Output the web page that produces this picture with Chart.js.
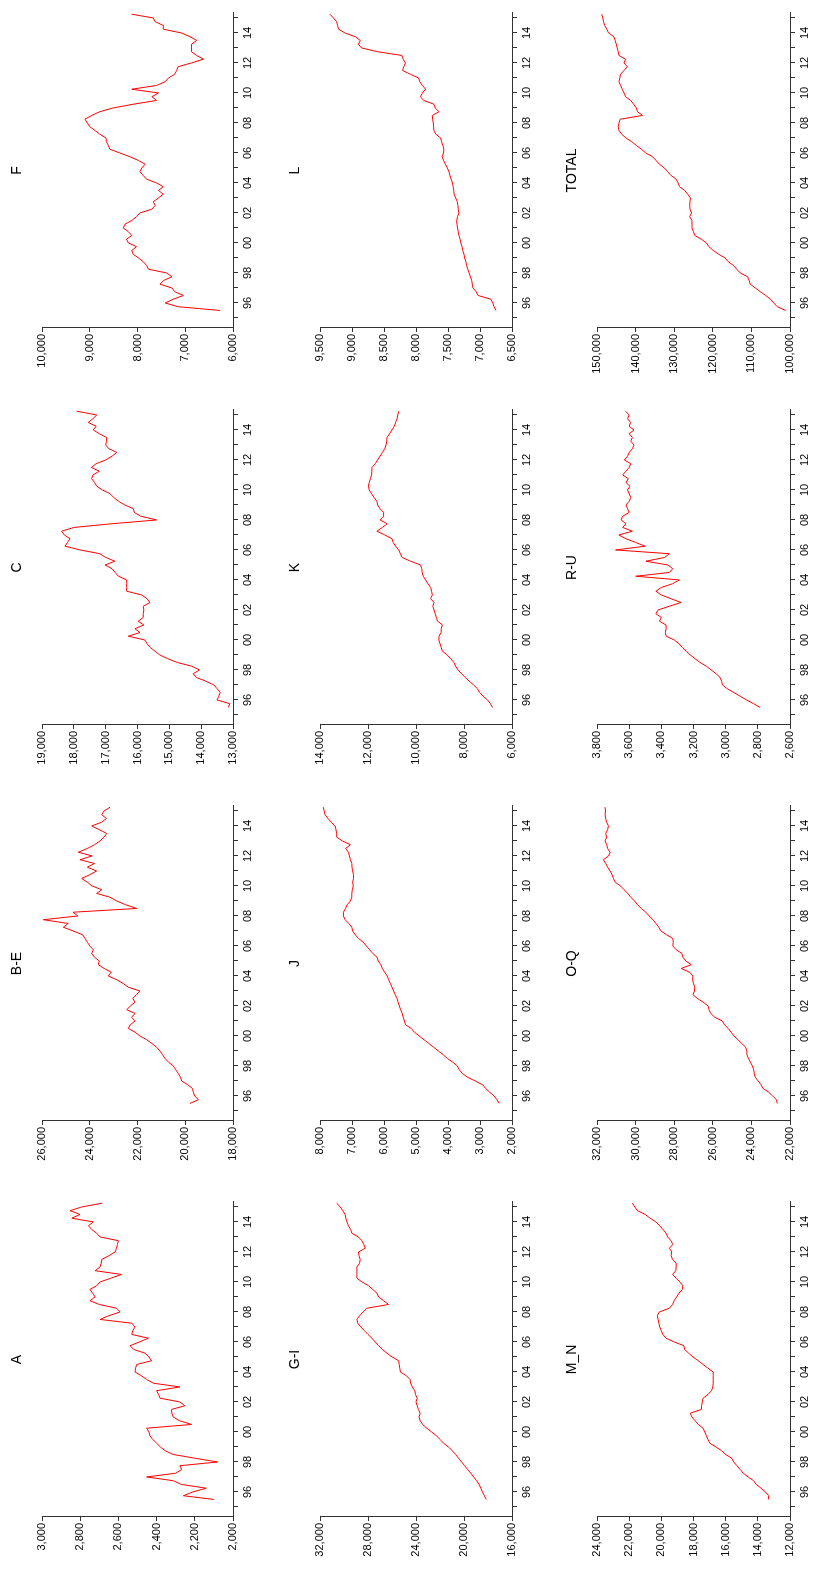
<!DOCTYPE html>
<html lang="en">
<head>
<meta charset="UTF-8">
<title>Value added by activity</title>
<script src="https://cdn.jsdelivr.net/npm/chart.js"></script>
<style>
  html, body { margin: 0; padding: 0; background: #fff; overflow: hidden; }
  /* the whole sheet is laid out landscape, then turned a quarter left */
  #page { position: absolute; left: 0; top: 0; width: 1575px; height: 817px;
          transform-origin: 0 0; transform: translateY(1575px) rotate(-90deg); }
  #page canvas { position: absolute; }
</style>
</head>
<body>
<div id="page"></div>
<script>
// quarterly observations
const quarters = [
  '1995Q3','1995Q4',
  '1996Q1','1996Q2','1996Q3','1996Q4','1997Q1','1997Q2','1997Q3','1997Q4',
  '1998Q1','1998Q2','1998Q3','1998Q4','1999Q1','1999Q2','1999Q3','1999Q4',
  '2000Q1','2000Q2','2000Q3','2000Q4','2001Q1','2001Q2','2001Q3','2001Q4',
  '2002Q1','2002Q2','2002Q3','2002Q4','2003Q1','2003Q2','2003Q3','2003Q4',
  '2004Q1','2004Q2','2004Q3','2004Q4','2005Q1','2005Q2','2005Q3','2005Q4',
  '2006Q1','2006Q2','2006Q3','2006Q4','2007Q1','2007Q2','2007Q3','2007Q4',
  '2008Q1','2008Q2','2008Q3','2008Q4','2009Q1','2009Q2','2009Q3','2009Q4',
  '2010Q1','2010Q2','2010Q3','2010Q4','2011Q1','2011Q2','2011Q3','2011Q4',
  '2012Q1','2012Q2','2012Q3','2012Q4','2013Q1','2013Q2','2013Q3','2013Q4',
  '2014Q1','2014Q2','2014Q3','2014Q4','2015Q1','2015Q2'
];
const yearTicks = [1995,1996,1997,1998,1999,2000,2001,2002,2003,2004,2005,
                   2006,2007,2008,2009,2010,2011,2012,2013,2014,2015];

const panelTitles = ['A','B-E','C','F','G-I','J','K','L','M_N','O-Q','R-U','TOTAL'];
const axisMin  = [2000, 18000, 13000, 6000, 16000, 2000, 6000, 6500, 12000, 22000, 2600, 100000];
const axisMax  = [3000, 26000, 19000, 10000, 32000, 8000, 14000, 9500, 24000, 32000, 3800, 150000];
const axisStep = [200, 2000, 1000, 1000, 4000, 1000, 2000, 500, 2000, 2000, 200, 10000];

const seriesA = [
  2100,2260,2210,2140,2270,2313,2452,2300,2269,2278,
  2080,2200,2313,2356,2380,2400,2420,2435,2440,2452,
  2217,2280,2313,2320,2322,2252,2278,2382,2390,2400,
  2278,2417,2452,2480,2513,2510,2504,2426,2440,2460,
  2520,2539,2490,2443,2530,2525,2513,2530,2696,2650,
  2591,2610,2700,2749,2722,2735,2749,2714,2696,2640,
  2583,2722,2696,2690,2687,2650,2617,2610,2605,2600,
  2696,2714,2740,2757,2731,2844,2801,2853,2792,2685
];
const seriesBE = [
  19800,19450,19600,19660,19700,19900,20150,20200,20290,20400,
  20500,20700,20850,20950,21060,21200,21400,21615,21900,22100,
  22386,22300,22100,22250,22100,22450,22300,22105,22200,22050,
  21896,22386,22600,22870,23223,23100,23400,23642,23600,23800,
  23918,23850,24000,24100,24199,24300,24700,25108,24900,25945,
  24500,24700,22033,22500,22870,23152,23710,23500,23900,24100,
  24337,24000,23710,24100,23800,24410,23900,24480,24100,23800,
  23571,23400,23291,23600,23918,23500,23300,23500,23400,23152
];
const seriesC = [
  13150,13100,13500,13450,13400,13500,13600,13850,14150,14250,
  14050,14300,14750,15050,15300,15450,15600,15700,15770,16290,
  15920,16080,15800,15980,15820,15820,15800,15820,15610,15700,
  15870,16340,16340,16340,16340,16600,16700,16800,17020,16710,
  17000,17180,17800,18280,18200,18120,18300,18380,18000,16800,
  15400,15900,16100,16130,16400,16600,16750,16860,17100,17280,
  17350,17440,17400,17200,17450,17300,17000,16800,16650,16900,
  17000,16970,16970,17200,17390,17300,17550,17400,17280,17910
];
const seriesF = [
  6270,7150,7420,7250,7040,7220,7280,7530,7450,7280,
  7390,7770,7810,7880,7980,8090,8120,8020,8190,8230,
  8120,8190,8300,8260,8120,8020,7950,7700,7630,7670,
  7560,7460,7560,7460,7600,7810,7880,7950,7910,7840,
  7980,8160,8370,8580,8610,8650,8660,8790,8890,9000,
  9050,9100,8960,8790,8510,8090,7600,7700,7560,8120,
  7600,7420,7350,7220,7180,7150,6870,6620,6760,6870,
  6870,6870,6760,6900,7080,7460,7460,7630,7670,8120
];
const seriesGI = [
  18150,18300,18460,18600,18736,18950,19200,19434,19700,19950,
  20200,20450,20700,20970,21300,21700,22000,22300,22700,23100,
  23450,23650,23750,23650,23800,23900,24000,23900,24042,24100,
  24300,24450,24500,24800,25299,25350,25400,25440,26000,26419,
  26800,27116,27400,27670,28000,28300,28600,28850,28926,28700,
  28400,28090,26279,26700,27116,27250,27600,27954,28500,28926,
  28926,28926,28926,28700,28651,28750,28792,28230,28350,28507,
  28800,29344,29450,29630,29750,29850,29906,30100,30322,30601
];
const seriesJ = [
  2400,2470,2557,2700,2820,2921,3150,3393,3550,3650,
  3707,3850,4021,4150,4300,4450,4600,4750,4900,5050,
  5150,5330,5360,5400,5430,5480,5520,5560,5591,5650,
  5700,5750,5800,5855,5900,5980,6050,6100,6180,6219,
  6350,6450,6550,6650,6797,6900,6980,7005,7100,7215,
  7268,7268,7200,7150,7050,7006,7006,6990,6960,6980,
  6954,6954,6980,7000,7005,7050,7080,7111,7200,7050,
  7300,7477,7480,7500,7529,7650,7750,7843,7870,7896
];
const seriesK = [
  6810,6900,7020,7200,7350,7440,7600,7780,7950,8100,
  8250,8350,8420,8550,8700,8900,8950,9000,9050,9040,
  8950,8950,8900,9100,9150,9200,9250,9300,9250,9390,
  9320,9350,9390,9500,9600,9700,9740,9760,9810,10230,
  10580,10650,10720,10850,10950,11000,11300,11630,11400,11200,
  11500,11350,11350,11500,11600,11630,11750,11850,11950,11980,
  11950,11900,11850,11840,11835,11700,11600,11500,11400,11300,
  11250,11220,11207,11100,11000,10900,10850,10790,10760,10720
];
const seriesL = [
  6750,6780,6800,6830,7030,7060,7110,7120,7130,7150,
  7170,7190,7210,7220,7240,7250,7270,7280,7300,7310,
  7330,7340,7350,7360,7365,7350,7330,7340,7345,7355,
  7380,7405,7410,7420,7430,7450,7470,7485,7510,7540,
  7570,7590,7570,7565,7580,7600,7615,7690,7720,7725,
  7730,7740,7746,7640,7700,7720,7880,7930,7900,7850,
  7900,7940,7960,8090,8210,8190,8165,8200,8220,8600,
  8850,8900,8870,8950,9110,9210,9225,9240,9290,9345
];
const seriesMN = [
  13350,13320,13526,13800,14100,14261,14600,14900,15100,15300,
  15500,15624,16000,16253,16600,16985,17100,17200,17300,17403,
  17700,17900,18100,18200,17509,17500,17450,17403,17100,16880,
  16800,16775,16775,16775,16775,17100,17403,17700,18031,18300,
  18550,18600,19200,19709,19900,20000,20100,20150,20200,20250,
  20125,19500,19300,19200,19050,18900,18700,18659,18850,19080,
  19300,19100,19079,19079,19300,19393,19350,19497,19288,19400,
  19600,19709,19900,20100,20337,20700,21000,21487,21650,21801
];
const seriesOQ = [
  22660,22700,22900,23100,23400,23500,23650,23800,23850,23880,
  23950,24050,24150,24235,24235,24300,24500,24700,24900,25050,
  25200,25400,25500,25900,26100,26200,26240,26500,26800,27026,
  26950,26940,27000,27050,27026,27200,27640,27115,27400,27549,
  27600,27900,28073,28050,28073,28400,28686,28800,28947,29100,
  29300,29471,29700,29906,30050,30256,30400,30600,30780,31058,
  31150,31215,31320,31450,31550,31670,31400,31320,31450,31495,
  31582,31500,31550,31450,31408,31500,31550,31582,31560,31582
];
const seriesRU = [
  2785,2826,2870,2910,2950,2990,3020,3025,3035,3060,
  3090,3120,3160,3190,3220,3245,3270,3290,3320,3370,
  3375,3370,3371,3412,3400,3434,3420,3350,3277,3340,
  3400,3434,3400,3330,3287,3559,3350,3329,3360,3496,
  3380,3350,3685,3500,3560,3620,3664,3580,3640,3620,
  3650,3640,3600,3610,3620,3600,3590,3600,3610,3595,
  3620,3605,3640,3620,3600,3590,3630,3610,3600,3580,
  3570,3590,3580,3600,3570,3600,3591,3610,3600,3622
];
const seriesTOTAL = [
  101100,103300,104200,105050,106300,107670,109000,110290,110600,110990,
  112900,113800,114660,116000,116830,118500,119890,121000,121650,122960,
  124690,125000,125390,125390,125400,125990,125500,125900,125990,125900,
  125800,126500,127300,128610,129000,129490,130810,131700,132540,133850,
  134700,135600,137360,138500,139800,141000,142500,143600,144300,144500,
  144300,144000,138200,139500,139800,140500,141280,142590,143000,143450,
  143890,144320,144100,143890,143000,142150,143010,142590,144320,144500,
  144760,145000,145300,145630,147000,147460,148000,148300,148500,148770
];

const allSeries = [seriesA, seriesBE, seriesC, seriesF, seriesGI, seriesJ,
                   seriesK, seriesL, seriesMN, seriesOQ, seriesRU, seriesTOTAL];

// "1995Q3" -> 1995.5
const qTime = quarters.map(q => parseInt(q.slice(0, 4)) + (parseInt(q.slice(5)) - 1) / 4);

const FONT = "'Liberation Sans', Arial, sans-serif";
const AXIS = '#333';

// landscape layout: plot areas on the sheet
const plotLeft = [58, 454, 850, 1247];
const plotTop = [42, 320, 597];
const plotHeight = [191, 192, 193];
const cellW = 396, cellH = 262, yAxisW = 58, titleH = 42, plotW = 315;

const page = document.getElementById('page');

panelTitles.forEach((title, k) => {
    const row = Math.floor(k / 4), col = k % 4;
    const canvas = document.createElement('canvas');
    canvas.width = cellW;
    canvas.height = cellH;
    canvas.style.left = (plotLeft[col] - yAxisW) + 'px';
    canvas.style.top = (plotTop[row] - titleH) + 'px';
    page.appendChild(canvas);

    const values = allSeries[k];
    const xAxisH = cellH - titleH - plotHeight[row];

    new Chart(canvas, {
        type: 'line',
        data: {
            datasets: [{
                data: values.map((v, i) => ({ x: qTime[i], y: v })),
                borderColor: '#ff0000',
                borderWidth: 1,
                pointRadius: 0,
                tension: 0,
                fill: false
            }]
        },
        options: {
            responsive: false,
            animation: false,
            devicePixelRatio: 1,
            layout: { padding: { left: 0, right: cellW - yAxisW - plotW, top: 0, bottom: 0 } },
            plugins: {
                legend: { display: false },
                tooltip: { enabled: false },
                title: {
                    display: true,
                    text: title,
                    fullSize: false,
                    color: '#000',
                    font: { family: FONT, size: 14, weight: 'normal' },
                    padding: { top: 8.6, bottom: 16.6 }
                }
            },
            scales: {
                x: {
                    type: 'linear',
                    min: 1994.33,
                    max: 2015.33,
                    afterBuildTicks: s => { s.ticks = yearTicks.map(v => ({ value: v })); },
                    afterFit: s => { s.height = xAxisH; },
                    ticks: {
                        autoSkip: false, maxRotation: 0, minRotation: 0, padding: 3,
                        color: '#000', font: { family: FONT, size: 11 },
                        callback: v => (v % 2 === 0 ? String(v).slice(2) : '')
                    },
                    grid: { drawOnChartArea: false, tickLength: 5, color: AXIS },
                    border: { color: AXIS, width: 1 }
                },
                y: {
                    min: axisMin[k],
                    max: axisMax[k],
                    afterFit: s => { s.width = yAxisW; },
                    ticks: {
                        stepSize: axisStep[k], padding: 2,
                        color: '#000', font: { family: FONT, size: 11 },
                        callback: v => v.toLocaleString('en-US')
                    },
                    grid: { drawOnChartArea: false, tickLength: 4, color: AXIS },
                    border: { color: AXIS, width: 1 }
                }
            }
        }
    });
});
</script>
</body>
</html>
